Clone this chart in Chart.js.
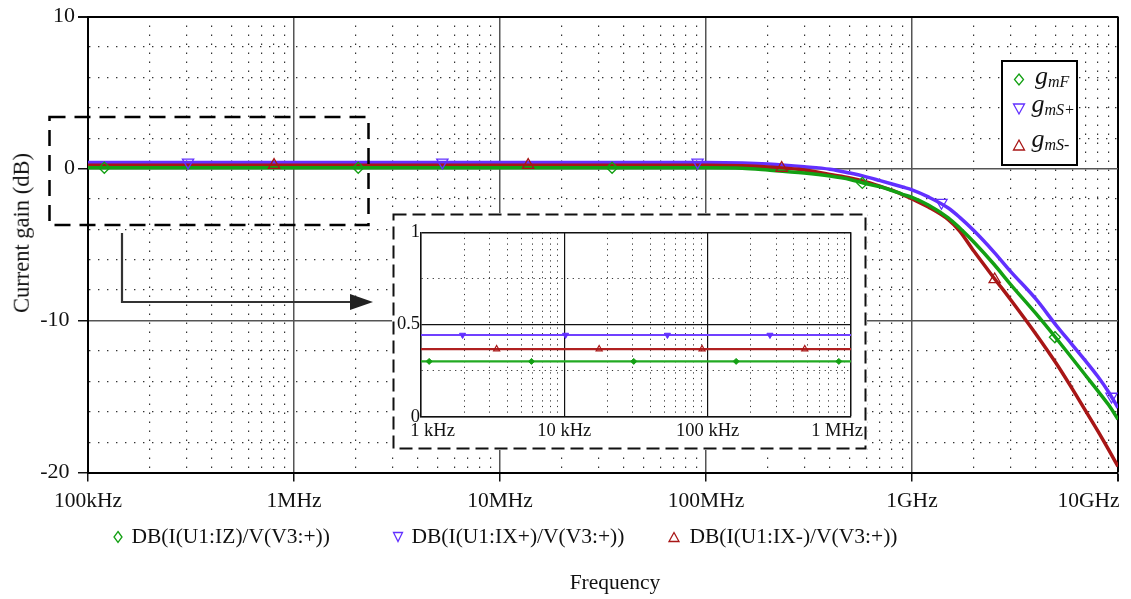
<!DOCTYPE html>
<html>
<head>
<meta charset="utf-8">
<title>Current gain</title>
<script src="https://cdn.jsdelivr.net/npm/chart.js@4.4.0/dist/chart.umd.min.js"></script>
<style>
  html, body { margin: 0; padding: 0; background: #fff; }
  #wrap { position: relative; width: 1131px; height: 599px; overflow: hidden;
          font-family: 'Liberation Serif', 'Times New Roman', serif; color: #111; }
  #main { position: absolute; left: 0; top: 0; }
  #inset { position: absolute; left: 392px; top: 213px; }
  .txt { position: absolute; white-space: nowrap; line-height: 1; }
  .leg { font-size: 21.5px; top: 525.5px; }
  .g { font-size: 26px; font-style: italic; }
  .g sub { font-size: 16px; vertical-align: -3px; }
</style>
</head>
<body>
<div id="wrap">
  <canvas id="main" width="1131" height="599"></canvas>
  <canvas id="inset" width="475" height="237"></canvas>

  <div class="txt" id="ytitle" style="left:22px; top:233px; font-size:22.5px; transform:translate(-50%,-50%) rotate(-90deg);">Current gain (dB)</div>
  <div class="txt" style="left:615px; top:572px; font-size:21.5px; transform:translateX(-50%);">Frequency</div>

  <div class="txt leg" style="left:131.5px;">DB(I(U1:IZ)/V(V3:+))</div>
  <div class="txt leg" style="left:411.5px;">DB(I(U1:IX+)/V(V3:+))</div>
  <div class="txt leg" style="left:689.5px;">DB(I(U1:IX-)/V(V3:+))</div>

  <div class="txt g" style="left:1035px; top:63px;">g<sub>mF</sub></div>
  <div class="txt g" style="left:1031.5px; top:91px;">g<sub>mS+</sub></div>
  <div class="txt g" style="left:1031.5px; top:126px;">g<sub>mS-</sub></div>
</div>

<script>
// ---------- Dados ----------
// curva principal: frequência (Hz) e ganho (dB)
const freq   = [1e5, 1e6, 1e7, 5e7, 1e8, 1.5e8, 2e8, 3e8, 4e8, 5e8, 6e8, 7e8, 8e8, 9e8,
                1e9, 1.2e9, 1.5e9, 1.7e9, 2e9, 2.5e9, 3e9, 4e9, 5e9, 6e9, 7e9, 8e9, 9e9, 1e10];
const gainF  = [0.05, 0.05, 0.05, 0.05, 0.05, 0.02, -0.1, -0.3, -0.5, -0.72, -1.0, -1.2, -1.45, -1.7,
                -1.9, -2.4, -3.25, -3.9, -4.85, -6.3, -7.6, -9.55, -11.15, -12.5, -13.65, -14.65, -15.55, -16.5];
const gainSp = [0.4, 0.4, 0.4, 0.4, 0.4, 0.37, 0.3, 0.12, -0.05, -0.3, -0.55, -0.8, -1.02, -1.22,
                -1.4, -1.87, -2.6, -3.2, -4.1, -5.5, -6.75, -8.6, -10.3, -11.6, -12.7, -13.7, -14.7, -15.75];
const gainSm = [0.22, 0.22, 0.22, 0.22, 0.22, 0.18, 0.1, -0.1, -0.4, -0.62, -0.88, -1.16, -1.43, -1.72,
                -2.0, -2.53, -3.36, -4.1, -5.45, -7.2, -8.6, -10.9, -12.8, -14.5, -16.0, -17.3, -18.5, -19.6];

// marcadores sobre as curvas
const markFreqF  = [1.2e5, 2.05e6, 3.5e7, 5.74e8, 4.94e9];
const markGainF  = [0.05, 0.05, 0.05, -0.95, -11.1];
const markFreqSp = [3.06e5, 5.25e6, 9.1e7, 1.39e9, 9.3e9];
const markGainSp = [0.4, 0.4, 0.4, -2.25, -15.0];
const markFreqSm = [8.0e5, 1.37e7, 2.33e8, 2.52e9];
const markGainSm = [0.22, 0.22, 0.03, -7.3];

// detalhe (zoom) 1 kHz - 1 MHz
const insetFreq = [1e3, 1e4, 1e5, 1e6];
const insetF    = [0.30, 0.30, 0.30, 0.30];
const insetSp   = [0.443, 0.443, 0.443, 0.443];
const insetSm   = [0.367, 0.367, 0.367, 0.367];
const insetMarkFreqF  = [1.14e3, 5.9e3, 3.05e4, 1.58e5, 8.22e5];
const insetMarkGainF  = [0.30, 0.30, 0.30, 0.30, 0.30];
const insetMarkFreqSp = [1.95e3, 1.02e4, 5.24e4, 2.72e5];
const insetMarkGainSp = [0.443, 0.443, 0.443, 0.443];
const insetMarkFreqSm = [3.37e3, 1.75e4, 9.14e4, 4.76e5];
const insetMarkGainSm = [0.367, 0.367, 0.367, 0.367];

// eixos
const mainDecades  = [1e5, 1e6, 1e7, 1e8, 1e9, 1e10];
const mainXLabels  = ['100kHz', '1MHz', '10MHz', '100MHz', '1GHz', '10GHz'];
const mainYLabels  = [-20, -10, 0, 10];
const insetDecades = [1e3, 1e4, 1e5, 1e6];
const insetXLabels = ['1 kHz', '10 kHz', '100 kHz', '1 MHz'];
const insetYLabels = [0, 0.5, 1];

// ---------- Estilo ----------
const SERIF = "'Liberation Serif', 'Times New Roman', serif";
const GREEN = '#13a013';
const BLUE  = '#6230ff';
const RED   = '#a81616';

function logTicks(decades) {
    const out = [];
    decades.forEach(function (d, i) {
        if (i === decades.length - 1) { out.push(d); return; }
        for (let k = 1; k <= 9; k++) out.push(k * d);
    });
    return out;
}
function isDecade(v) {
    const l = Math.log10(v);
    return Math.abs(l - Math.round(l)) < 1e-6;
}
function pts(xs, ys) {
    return xs.map(function (x, i) { return { x: x, y: ys[i] }; });
}

// pequenos marcadores desenhados à mão (legendas)
function mark(ctx, shape, x, y, w, h, color) {
    ctx.save();
    ctx.beginPath();
    if (shape === 'diamond') {
        ctx.moveTo(x, y - h / 2); ctx.lineTo(x + w / 2, y); ctx.lineTo(x, y + h / 2); ctx.lineTo(x - w / 2, y);
    } else if (shape === 'down') {
        ctx.moveTo(x - w / 2, y - h / 2); ctx.lineTo(x + w / 2, y - h / 2); ctx.lineTo(x, y + h / 2);
    } else {
        ctx.moveTo(x - w / 2, y + h / 2); ctx.lineTo(x + w / 2, y + h / 2); ctx.lineTo(x, y - h / 2);
    }
    ctx.closePath();
    ctx.lineWidth = 1.3;
    ctx.strokeStyle = color;
    ctx.stroke();
    ctx.restore();
}

// ---------- Gráfico principal ----------
const mainXTicks = logTicks(mainDecades);

const extras = {
    id: 'extras',
    afterDatasetsDraw(chart) {
        const ctx = chart.ctx;
        ctx.save();
        // janela tracejada do zoom
        ctx.strokeStyle = '#000';
        ctx.lineWidth = 2.5;
        ctx.setLineDash([16, 9]);
        ctx.strokeRect(49.5, 117, 319, 108);
        // seta até o detalhe
        ctx.setLineDash([]);
        ctx.lineWidth = 2.2;
        ctx.strokeStyle = '#333';
        ctx.beginPath();
        ctx.moveTo(122, 233); ctx.lineTo(122, 302); ctx.lineTo(352, 302);
        ctx.stroke();
        ctx.fillStyle = '#222';
        ctx.beginPath();
        ctx.moveTo(373, 302); ctx.lineTo(350, 294); ctx.lineTo(350, 310);
        ctx.closePath();
        ctx.fill();
        ctx.restore();
    },
    afterDraw(chart) {
        const ctx = chart.ctx;
        // caixa da legenda interna
        ctx.save();
        ctx.fillStyle = '#fff';
        ctx.fillRect(1002, 61, 75, 104);
        ctx.lineWidth = 2;
        ctx.strokeStyle = '#000';
        ctx.strokeRect(1002, 61, 75, 104);
        ctx.restore();
        mark(ctx, 'diamond', 1019, 79.5, 9, 11, GREEN);
        mark(ctx, 'down', 1019, 109, 11, 10, BLUE);
        mark(ctx, 'up', 1019, 145, 11, 10, RED);
        // legenda de baixo
        mark(ctx, 'diamond', 118, 537, 8, 11, GREEN);
        mark(ctx, 'down', 398, 537, 9, 9, BLUE);
        mark(ctx, 'up', 674, 537, 10, 9, RED);
    }
};

function curve(xs, ys, color, order) {
    return { data: pts(xs, ys), borderColor: color, borderWidth: 3.5, pointRadius: 0,
             cubicInterpolationMode: 'monotone', order: order };
}

new Chart(document.getElementById('main').getContext('2d'), {
    type: 'line',
    data: {
        datasets: [
            { data: pts(markFreqF, markGainF), showLine: false, pointStyle: 'rectRot', pointRadius: 5.5,
              pointBorderColor: GREEN, pointBackgroundColor: 'rgba(0,0,0,0)', pointBorderWidth: 1.3, order: 0 },
            { data: pts(markFreqSp, markGainSp), showLine: false, pointStyle: 'triangle', pointRotation: 180, pointRadius: 6.5,
              pointBorderColor: BLUE, pointBackgroundColor: 'rgba(0,0,0,0)', pointBorderWidth: 1.3, order: 0 },
            { data: pts(markFreqSm, markGainSm), showLine: false, pointStyle: 'triangle', pointRadius: 6.5,
              pointBorderColor: RED, pointBackgroundColor: 'rgba(0,0,0,0)', pointBorderWidth: 1.3, order: 0 },
            curve(freq, gainF, GREEN, 1),
            curve(freq, gainSm, RED, 2),
            curve(freq, gainSp, BLUE, 3)
        ]
    },
    options: {
        responsive: false,
        animation: false,
        events: [],
        layout: { padding: { top: 16.5, right: 13, left: 0, bottom: 0 } },
        plugins: { legend: { display: false }, tooltip: { enabled: false } },
        scales: {
            x: {
                type: 'logarithmic', min: 1e5, max: 1e10,
                afterBuildTicks: function (s) { s.ticks = mainXTicks.map(function (v) { return { value: v }; }); },
                afterFit: function (s) { s.height = 126.5; s.paddingLeft = 0; s.paddingRight = 0; },
                ticks: {
                    autoSkip: false, maxRotation: 0, minRotation: 0, padding: 7,
                    color: '#111', font: { family: SERIF, size: 21.5 },
                    callback: function (v) {
                        const i = mainDecades.indexOf(v);
                        if (i < 0) return '';
                        // último rótulo encostado na borda direita
                        return i === mainDecades.length - 1 ? mainXLabels[i] + '           ' : mainXLabels[i];
                    }
                },
                grid: {
                    color: function (c) {
                        if (!isDecade(c.tick.value)) return '#333';
                        return c.tick.value === 1e10 ? '#000' : '#555';
                    },
                    lineWidth: function (c) {
                        if (!isDecade(c.tick.value)) return 1.2;
                        return c.tick.value === 1e10 ? 2 : 1.5;
                    },
                    tickLength: 9,
                    tickColor: function (c) { return isDecade(c.tick.value) ? '#111' : 'rgba(0,0,0,0)'; }
                },
                border: {
                    color: '#000', width: 2,
                    dash: function (c) { return (c.tick && !isDecade(c.tick.value)) ? [1.4, 7.6] : []; }
                }
            },
            y: {
                min: -20, max: 10,
                afterFit: function (s) { s.width = 88; },
                ticks: {
                    stepSize: 2, autoSkip: false, padding: 3,
                    color: '#111', font: { family: SERIF, size: 22 },
                    callback: function (v) {
                        if (mainYLabels.indexOf(v) < 0) return '';
                        return v < 0 ? String(v) + ' ' : String(v);
                    }
                },
                grid: {
                    color: function (c) {
                        if (c.tick.value % 10 !== 0) return '#333';
                        return c.tick.value === 10 ? '#000' : '#555';
                    },
                    lineWidth: function (c) {
                        if (c.tick.value % 10 !== 0) return 1.2;
                        return c.tick.value === 10 ? 2 : 1.5;
                    },
                    tickLength: 10,
                    tickColor: function (c) { return c.tick.value % 10 === 0 ? '#111' : 'rgba(0,0,0,0)'; }
                },
                border: {
                    color: '#000', width: 2,
                    dash: function (c) { return (c.tick && c.tick.value % 10 !== 0) ? [1.4, 7.6] : []; }
                }
            }
        }
    },
    plugins: [extras]
});

// ---------- Detalhe (zoom) ----------
const insetXTicks = logTicks(insetDecades);

const insetFrame = {
    id: 'insetFrame',
    beforeDraw(chart) {
        const ctx = chart.ctx;
        ctx.save();
        ctx.fillStyle = '#fff';
        ctx.fillRect(0, 0, chart.width, chart.height);
        ctx.restore();
    },
    afterDraw(chart) {
        const ctx = chart.ctx;
        ctx.save();
        ctx.strokeStyle = '#111';
        ctx.lineWidth = 2;
        ctx.setLineDash([13, 6]);
        ctx.strokeRect(1.5, 1.5, chart.width - 3, chart.height - 3);
        ctx.restore();
    }
};

new Chart(document.getElementById('inset').getContext('2d'), {
    type: 'line',
    data: {
        datasets: [
            { data: pts(insetMarkFreqF, insetMarkGainF), showLine: false, pointStyle: 'rectRot', pointRadius: 3,
              pointBorderColor: GREEN, pointBackgroundColor: GREEN, pointBorderWidth: 1, order: 0 },
            { data: pts(insetMarkFreqSp, insetMarkGainSp), showLine: false, pointStyle: 'triangle', pointRotation: 180, pointRadius: 3.5,
              pointBorderColor: BLUE, pointBackgroundColor: BLUE, pointBorderWidth: 1, order: 0 },
            { data: pts(insetMarkFreqSm, insetMarkGainSm), showLine: false, pointStyle: 'triangle', pointRadius: 3.5,
              pointBorderColor: RED, pointBackgroundColor: 'rgba(0,0,0,0)', pointBorderWidth: 1.2, order: 0 },
            { data: pts(insetFreq, insetF), borderColor: '#22aa22', borderWidth: 2.2, pointRadius: 0, order: 1 },
            { data: pts(insetFreq, insetSm), borderColor: '#b02020', borderWidth: 2.2, pointRadius: 0, order: 1 },
            { data: pts(insetFreq, insetSp), borderColor: '#7040ff', borderWidth: 2.2, pointRadius: 0, order: 1 }
        ]
    },
    options: {
        responsive: false,
        animation: false,
        events: [],
        layout: { padding: { top: 19.3, right: 16, left: 0, bottom: 0 } },
        plugins: { legend: { display: false }, tooltip: { enabled: false } },
        scales: {
            x: {
                type: 'logarithmic', min: 1e3, max: 1e6,
                afterBuildTicks: function (s) { s.ticks = insetXTicks.map(function (v) { return { value: v }; }); },
                afterFit: function (s) { s.height = 33.3; s.paddingLeft = 0; s.paddingRight = 0; },
                ticks: {
                    autoSkip: false, maxRotation: 0, minRotation: 0, padding: 3,
                    color: '#111', font: { family: SERIF, size: 18.5 },
                    callback: function (v) {
                        const i = insetDecades.indexOf(v);
                        if (i < 0) return '';
                        if (i === 0) return '     ' + insetXLabels[i];
                        if (i === insetDecades.length - 1) return insetXLabels[i] + '      ';
                        return insetXLabels[i];
                    }
                },
                grid: {
                    drawTicks: false,
                    color: function (c) { return isDecade(c.tick.value) ? '#111' : '#333'; },
                    lineWidth: function (c) {
                        if (!isDecade(c.tick.value)) return 1;
                        return c.tick.value === 1e6 ? 1.5 : 1.2;
                    }
                },
                border: {
                    color: '#111', width: 1.5,
                    dash: function (c) { return (c.tick && !isDecade(c.tick.value)) ? [1.2, 4.4] : []; }
                }
            },
            y: {
                min: 0, max: 1,
                afterFit: function (s) { s.width = 29; },
                ticks: {
                    stepSize: 0.25, autoSkip: false, padding: 1,
                    color: '#111', font: { family: SERIF, size: 18.5 },
                    callback: function (v) { return insetYLabels.indexOf(v) >= 0 ? String(v) : ''; }
                },
                grid: {
                    drawTicks: false,
                    color: function (c) { return (c.tick.value * 2) % 1 === 0 ? '#111' : '#333'; },
                    lineWidth: function (c) {
                        if ((c.tick.value * 2) % 1 !== 0) return 1;
                        return c.tick.value === 1 ? 1.5 : 1.2;
                    }
                },
                border: {
                    color: '#111', width: 1.5,
                    dash: function (c) { return (c.tick && (c.tick.value * 2) % 1 !== 0) ? [1.2, 4.4] : []; }
                }
            }
        }
    },
    plugins: [insetFrame]
});
</script>
</body>
</html>
